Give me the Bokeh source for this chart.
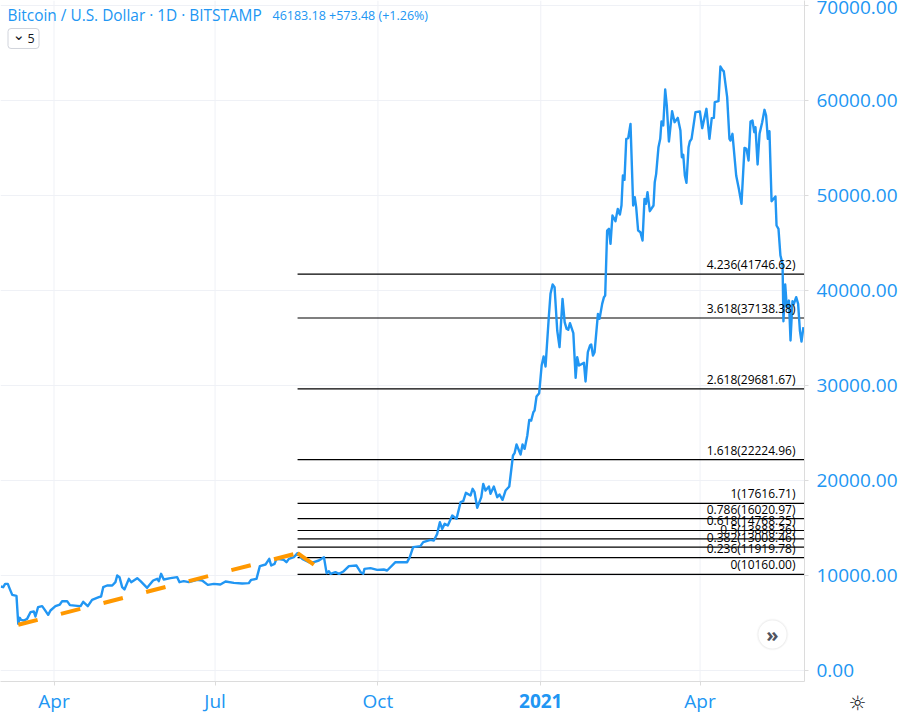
from bokeh.plotting import figure
from bokeh.core.properties import value
from bokeh.models import Range1d, FixedTicker, NumeralTickFormatter, Label, BoxAnnotation, ColumnDataSource, LinearAxis
from bokeh.embed import file_html
from bokeh.resources import INLINE

# days since 1 April 2020
days = [-30,-28.7,-27.6,-26.1,-25,-23.6,-21.2,-20.2,-19.3,-18.6,-17,-15.2,-13.3,-11.4,-10.5,-9,-6.7,-5.2,-3.3,-2,
0.8,3.3,4.6,7.4,9,13.1,15,16.5,19.1,21.5,25.3,26.6,27.8,30,32.9,34.7,35.7,37,38.5,39.8,42.3,43.6,47,48.9,52.6,56,58.3,59.2,60.5,62,
65.8,69.6,70.9,73.3,76.2,80.9,83.7,86.9,90.3,94,96.9,101.6,106.3,110,111.4,114.4,116.3,119.5,121.6,122.7,124.6,125.7,129.8,131.3,132.7,135.5,137.6,140.2,144,146.8,
149.6,152.5,154,155.3,156.2,159,161,163.7,166.6,170.9,173.2,174.7,175.4,178.8,182.6,186.3,188.2,192.9,196.7,199.5,201,202.9,207,208.6,212.7,214.6,216.5,217.1,218,219.3,
220.7,222.5,225,227.4,229.7,231.2,232.7,235.3,236.5,237.6,239.1,241.4,242.5,243.8,245.7,246.6,248.5,250.4,251.7,253.4,255.1,257.2,259.3,260.2,261.3,263.6,264.7,265.9,267.4,268.5,
269.6,270.8,271.5,272.6,274.1,275.5,276.6,277.7,279.6,280.5,281.7,282.8,284.3,285.6,287.3,288.5,289.6,290.5,291.5,293.4,294.7,295.6,296.6,299.4,300.3,301.6,302.8,303.5,304.5,305.4,
307.3,308.2,309.7,310.7,311.4,312.5,313.5,314.4,315.5,317.2,318.5,319.7,320.6,321.4,322.3,323.3,324.4,325.7,327.2,328.1,328.9,330,331.3,332.5,333.6,334.4,335.3,336.6,338.7,339.4,
340.2,341.5,342.5,343.2,344.2,345.3,346.2,347.4,349.2,350.6,352.4,353.9,354.7,355.5,356.4,357.3,358.5,359.2,360.2,362.4,364.9,366.2,368.6,370.3,371.6,372.8,373.3,375.4,376.5,377.9,
378.4,380.3,381.6,382.2,383.3,385.4,386.9,388.4,390.1,391.2,392.4,393.5,394.6,395.6,396.3,397.5,398.6,400.1,401.4,402.3,403.3,404.2,405.4,407.6,408.2,409.3,410.4,411.6,412.1,413.1,
414,415.2,416.1,417.2,418,419.3,420.4,421.4,422.3,423.4]
price = [8873,8803,9154,9154,8627,7996,7890,4943,5574,5364,5294,5469,6171,6241,5715,6697,6803,6416,5890,6346,
6803,6978,7329,7329,6908,6838,6803,7259,6803,7469,7750,7820,8803,8978,8978,9329,10031,9855,8803,8557,9680,9329,9750,9434,8733,9505,9680,9434,10206,9610,
9750,9855,9329,9434,9329,9575,9505,9048,9154,9084,9399,9259,9189,9224,9575,9680,11013,11189,11785,11084,11259,11785,11680,11434,11785,11961,12382,11785,11434,11434,
11610,11961,10276,10487,10206,10382,10206,10487,11013,11084,10382,10206,10733,10803,10627,10662,10557,11434,11434,11434,11961,13014,13119,13539,13785,13714,14416,14941,15643,14941,
15468,15292,16345,15994,17748,17854,18731,18450,19152,18801,17152,18275,19678,18976,19398,18626,19398,18275,18556,17994,18976,19398,22661,22906,23819,22766,23819,23363,24766,26416,
26345,27223,27398,28872,29223,32135,33083,32030,37399,39680,40662,40381,35820,34065,39153,36697,35995,35890,36592,35539,30837,33013,32135,32416,30451,33539,34241,34346,33188,33539,
37574,37048,38627,39329,39500,46344,46520,44940,47923,47327,48625,48028,48976,52134,51678,55994,56064,57573,48976,49853,48800,46344,46169,45291,49678,49151,50380,48379,48976,51432,
52309,55117,55994,57819,57398,61187,59503,55713,58906,57748,58204,56871,54064,54310,52134,51362,55117,55713,55994,58801,58871,57117,59152,55994,58169,58205,59854,59959,63608,63187,
63117,60380,55994,55818,56520,52134,50730,49151,55046,54941,53713,57819,57924,56696,57222,53292,56520,57748,59047,58450,55994,56801,49432,49923,46871,46520,43713,42835,36800,40660,
38274,38976,34765,38905,38624,39326,38624,35817,34659,36168]

fib_ratio = ["0","0.236","0.382","0.5","0.618","0.786","1","1.618","2.618","3.618","4.236"]
fib_price = [10160.00,11919.78,13008.46,13888.36,14768.25,16020.97,17616.71,22224.96,29681.67,37138.38,41746.62]
fib_start_day = 137.6

trend1_days = [-20.2, 137.6]
trend1_price = [4842, 12379]
trend2_days = [137.6, 147.2]
trend2_price = [12379, 11115]

month_ticks = [0, 91, 183, 365]
month_labels = ["Apr", "Jul", "Oct", "Apr"]
year_ticks = [275]
year_labels = ["2021"]
y_ticks = [0, 10000, 20000, 30000, 40000, 50000, 60000, 70000]

BLUE = "#2196f3"
UI = "Open Sans"
AXIS_GREY = "#dcdcdc"
GRID = "#eff1f6"
X0, X1 = -30.23, 424.0
Y0, Y1 = -1126, 70556

p = figure(width=907, height=721, output_backend="svg", toolbar_location=None,
           x_range=Range1d(X0, X1), y_range=Range1d(Y0, Y1),
           y_axis_location="right", x_axis_type=None, min_border_left=0, min_border_right=103,
           min_border_top=0, min_border_bottom=40, outline_line_color=None,
           background_fill_color="white", border_fill_color="white")

all_x_ticks = month_ticks + year_ticks
tick_axis = LinearAxis(ticker=FixedTicker(ticks=all_x_ticks), major_label_overrides={t: "" for t in all_x_ticks},
                       major_label_text_font_size="1px", major_label_standoff=0,
                       axis_line_color=AXIS_GREY, major_tick_line_color=AXIS_GREY, major_tick_in=0, major_tick_out=4,
                       minor_tick_line_color=None)
settings_icon = Label(x=857, y=7, x_units="screen", y_units="screen", text="☼", text_color="#131722",
                      text_font="DejaVu Sans", text_font_size="20px", text_align="center", text_baseline="middle")
year_axis = LinearAxis(ticker=FixedTicker(ticks=year_ticks),
                       major_label_overrides={t: l for t, l in zip(year_ticks, year_labels)},
                       major_label_text_font_style="bold", major_label_standoff=-16,
                       axis_line_color=None, major_tick_line_color=None, major_tick_in=0, major_tick_out=0,
                       minor_tick_line_color=None)
month_axis = LinearAxis(ticker=FixedTicker(ticks=month_ticks),
                        major_label_overrides={t: l for t, l in zip(month_ticks, month_labels)},
                        axis_line_color=None, major_tick_line_color=None, major_tick_in=0, major_tick_out=0,
                        minor_tick_line_color=None, major_label_standoff=-23)
p.add_layout(tick_axis, "below")
p.add_layout(settings_icon, "below")
p.add_layout(year_axis, "below")
p.add_layout(month_axis, "below")
p.yaxis.ticker = FixedTicker(ticks=y_ticks)
p.yaxis.formatter = NumeralTickFormatter(format="0.00")
for ax in (year_axis, month_axis, p.yaxis[0]):
    ax.major_label_text_color = BLUE
    ax.major_label_text_font = UI
    ax.major_label_text_font_size = "19px"
p.yaxis.axis_line_color = AXIS_GREY
p.yaxis.major_tick_line_color = AXIS_GREY
p.yaxis.major_tick_in = 0
p.yaxis.major_tick_out = 4
p.yaxis.minor_tick_line_color = None
p.yaxis.major_label_standoff = 8
p.ygrid.ticker = FixedTicker(ticks=y_ticks)
p.ygrid.grid_line_color = GRID
p.xgrid.visible = False
p.segment(x0=all_x_ticks, x1=all_x_ticks, y0=Y0, y1=Y1, line_color=GRID, line_width=1)

fib_src = ColumnDataSource(dict(
    x0=[fib_start_day] * len(fib_price), x1=[X1] * len(fib_price), y=fib_price,
    text=[f"{r}({v:.2f})" for r, v in zip(fib_ratio, fib_price)]))
p.segment(x0="x0", y0="y", x1="x1", y1="y", source=fib_src, line_color="black", line_width=1.2)

p.line(days, price, line_color=BLUE, line_width=2.4, line_join="round")

p.line(trend1_days, trend1_price, line_color="#ff9800", line_width=4, line_dash=[20, 24])
p.line(trend2_days, trend2_price, line_color="#ff9800", line_width=4, line_dash=[20, 24])

p.text(x="x1", y="y", text="text", source=fib_src, x_offset=-9, y_offset=-1,
       text_align="right", text_baseline="bottom", text_color="#000000",
       text_font=value(UI), text_font_size="12px")

# Header
p.add_layout(Label(x=7, y=Y1, x_units="screen", y_offset=-15, text="Bitcoin / U.S. Dollar · 1D · BITSTAMP",
                   text_color=BLUE, text_font=UI, text_font_size="15.4px", text_baseline="middle"))
p.add_layout(Label(x=272, y=Y1, x_units="screen", y_offset=-15, text="46183.18  +573.48  (+1.26%)",
                   text_color=BLUE, text_font=UI, text_font_size="12.5px", text_baseline="middle"))
p.add_layout(BoxAnnotation(left=7.5, right=38.5, top=Y1 - 2950, bottom=Y1 - 5050, left_units="screen", right_units="screen",
                           fill_color="white", fill_alpha=1, line_color="#d1d4dc", line_alpha=1, line_width=1, border_radius=3))
p.add_layout(Label(x=12, y=Y1 - 4000, x_units="screen", text="⌄", text_color="#131722", text_font="DejaVu Sans",
                   text_font_size="15px", text_baseline="middle", y_offset=4))
p.add_layout(Label(x=27, y=Y1 - 4000, x_units="screen", text="5", text_color="#131722", text_font=UI,
                   text_font_size="12.5px", text_baseline="middle"))

# Scroll button
p.add_layout(BoxAnnotation(left=756, right=788, top=5500, bottom=2140, left_units="screen", right_units="screen",
                           fill_color="#000000", fill_alpha=0.025, line_color=None, border_radius=16))
p.add_layout(BoxAnnotation(left=757, right=787, top=5400, bottom=2240, left_units="screen", right_units="screen",
                           fill_color="#000000", fill_alpha=0.04, line_color=None, border_radius=15))
p.add_layout(BoxAnnotation(left=758, right=786, top=5295, bottom=2347, left_units="screen", right_units="screen",
                           fill_color="white", fill_alpha=1, line_color=None, border_radius=14))
p.add_layout(Label(x=772, y=3821, x_units="screen", text="»", text_color="#50535e", text_font=UI,
                   text_font_size="20px", text_font_style="bold", text_align="center", text_baseline="middle"))

open("out.html", "w").write(file_html(p, INLINE))
